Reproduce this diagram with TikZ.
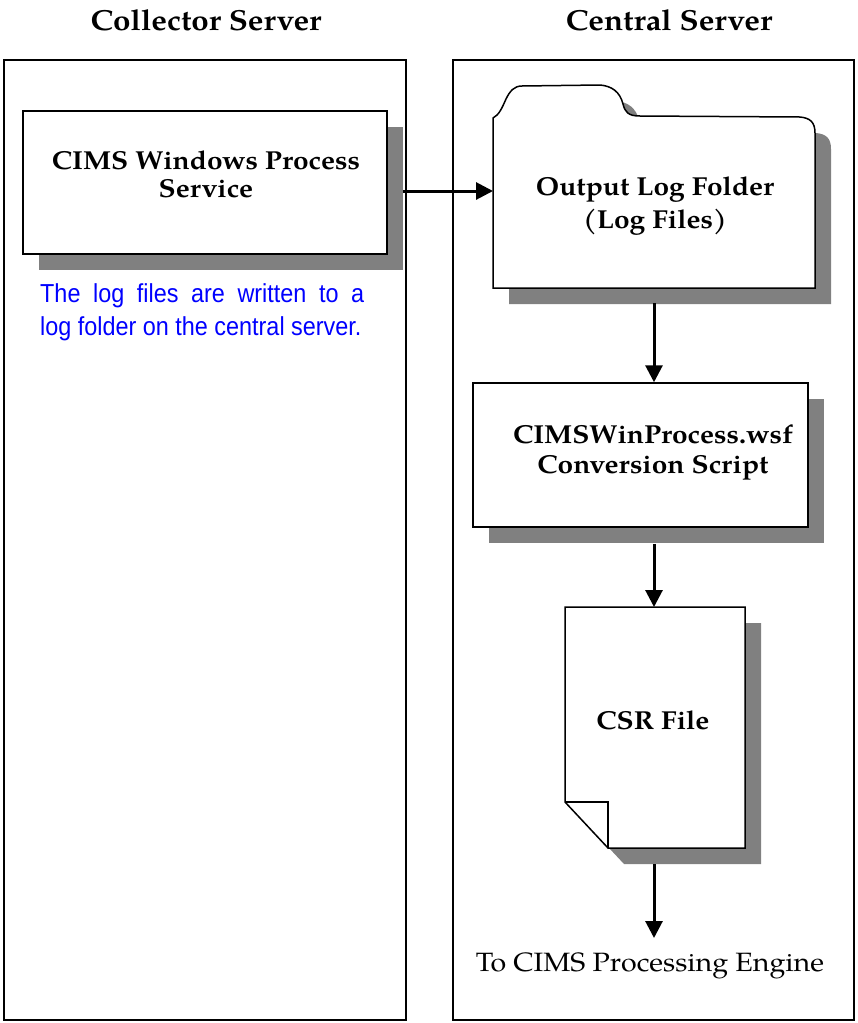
\documentclass[tikz,border=0pt]{standalone}
\usepackage{fontspec}
\setmainfont{texgyrepagella}[Extension=.otf,UprightFont=*-regular,BoldFont=*-bold,ItalicFont=*-italic,BoldItalicFont=*-bolditalic,FakeStretch=1.08]
\newfontfamily\notefont[FakeStretch=0.9]{Liberation Sans}
\usetikzlibrary{arrows.meta}
\definecolor{shadowgray}{RGB}{128,128,128}
\definecolor{noteblue}{RGB}{0,0,255}
\begin{document}
\begin{tikzpicture}[x=1pt,y=-1pt,
  panel/.style={draw, line width=1.6pt, inner sep=0pt},
  boxshape/.style={draw, fill=white, line width=1.5pt, inner sep=0pt},
  shadowfill/.style={fill=shadowgray, draw=none},
  flow/.style={line width=3pt, -{Triangle[length=17pt,width=17pt]}},
  boxtext/.style={font=\fontsize{26}{28}\selectfont\bfseries, align=center, inner sep=0pt},
  titletext/.style={font=\fontsize{29}{30}\selectfont\bfseries, inner sep=0pt},
  plaintext/.style={font=\fontsize{26.5}{30}\selectfont, inner sep=0pt},
  notetext/.style={font=\notefont\fontsize{26}{33}\selectfont, text=noteblue, align=left, inner sep=0pt},
]
\useasboundingbox (0,0) rectangle (857,1023);
% panels
\node[panel, minimum width=402pt, minimum height=960pt] (leftpanel) at (205,540) {};
\node[panel, minimum width=401pt, minimum height=960pt] (rightpanel) at (653.5,540) {};
\node[titletext] (lefttitle) at (206,20) {Collector Server};
\node[titletext] (righttitle) at (669,20) {Central Server};

% CIMS Windows Process Service box
\fill[shadowfill] (39,127) rectangle (403,270);
\node[boxshape, minimum width=364pt, minimum height=143pt] (cims) at (205,182.5) {};
\node[boxtext] (cimslabel) at (206,174) {CIMS Windows Process\\Service};

% note
\node[notetext, anchor=north west] (note) at (40,283)
  {\makebox[324pt][s]{The log files are written to a}\\log folder on the central server.};

% folder
\def\folderpath{(493,288) -- (493,118) .. controls (499,115) and (502,108) .. (506,99)
  .. controls (510,91) and (514,86) .. (522,86) -- (600,85)
  .. controls (612,86) and (620,92) .. (623,104)
  .. controls (625,112) and (628,116) .. (640,116) -- (800,117)
  .. controls (810,118) and (815,122) .. (815,133) -- (815,288) -- cycle}
\fill[shadowfill, shift={(16,16)}] \folderpath;
\draw[fill=white, line width=1.5pt] \folderpath;
\node[boxtext, font=\fontsize{26}{33}\selectfont\bfseries] (folder) at (655,206) {Output Log Folder\\(Log Files)};
\coordinate (folderin) at (493,191);
\coordinate (folderout) at (654,303);

% conversion script box
\fill[shadowfill] (489,399) rectangle (824,543);
\node[boxshape, minimum width=335pt, minimum height=144pt] (conv) at (640.5,455) {};
\node[boxtext, font=\fontsize{26}{30}\selectfont\bfseries] (convlabel) at (653,452) {CIMSWinProcess.wsf\\Conversion Script};

% CSR file
\def\docpath{(565,607) -- (745,607) -- (745,848) -- (608,848) -- (565,802) -- cycle}
\fill[shadowfill, shift={(16,16)}] \docpath;
\draw[fill=white, line width=1.5pt, line join=miter] \docpath;
\draw[line width=1.5pt] (565,802) -- (608,802) -- (608,848);
\node[boxtext] (csr) at (653,720) {CSR File};
\coordinate (csrin) at (654,607);
\coordinate (csrout) at (654,864);

% engine text
\node[plaintext] (engine) at (650,966) {To CIMS Processing Engine};
\coordinate (enginetip) at (654,938);

% connectors
\draw[flow] ([xshift=15pt,yshift=-8.5pt]cims.east) -- (folderin);
\draw[flow] (folderout) -- (folderout |- conv.north);
\draw[flow] ([yshift=-16pt]conv.south -| folderout) -- (csrin);
\draw[flow] (csrout) -- (enginetip);
\end{tikzpicture}
\end{document}
